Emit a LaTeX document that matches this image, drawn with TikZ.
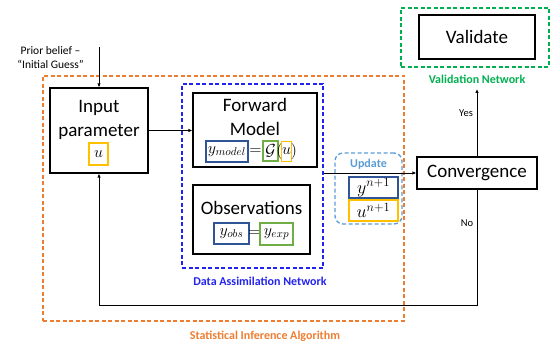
\RequirePackage{fix-cm}
\documentclass[tikz,border=0pt]{standalone}
\usepackage{amsmath}
\usepackage[no-math]{fontspec}
\setmainfont{Carlito}
\usetikzlibrary{arrows.meta}

\definecolor{siaorange}{RGB}{237,125,49}
\definecolor{danblue}{RGB}{35,35,240}
\definecolor{valgreen}{RGB}{0,176,80}
\definecolor{updblue}{RGB}{91,155,213}
\definecolor{varblue}{RGB}{47,85,151}
\definecolor{varyellow}{RGB}{255,192,0}
\definecolor{vargreen}{RGB}{112,173,71}

\tikzset{
  box/.style={draw, line width=1.2pt, inner sep=0pt, font=\fontsize{19}{23}\selectfont},
  boxtext/.style={align=center, inner sep=0pt, font=\fontsize{19}{24}\selectfont},
  varbox/.style={draw=#1, line width=1.2pt, inner sep=0.5pt, fill=white, font=\fontsize{16}{16}\selectfont},
  netframe/.style={draw=#1, line width=1.3pt, dash pattern=on 4pt off 2.5pt},
  tag/.style={text=#1, font=\fontsize{12}{14}\selectfont\bfseries},
  note/.style={align=center, font=\fontsize{11.5}{14}\selectfont},
  conn/.style={line width=0.8pt, -{Latex[length=4pt,width=3.5pt]}}
}

\begin{document}
\begin{tikzpicture}[x=1pt, y=-1pt]
  \useasboundingbox (0,0) rectangle (552,344);
  % dashed networks
  \node[netframe=siaorange, minimum width=361, minimum height=245] (sia) at (223.5,198.5) {};
  \node[netframe=danblue, minimum width=141, minimum height=184] (dan) at (252.5,176) {};
  \node[netframe=valgreen, minimum width=148, minimum height=59] (valnet) at (475,37.5) {};
  \node[netframe=updblue, rounded corners=8pt, minimum width=67, minimum height=71] (upd) at (368.5,188.5) {};
  \node[tag=siaorange] (siatag) at (265,336) {Statistical Inference Algorithm};
  \node[tag=danblue] (dantag) at (260,281) {Data Assimilation Network};
  \node[tag=valgreen] (valtag) at (477,79) {Validation Network};
  \node[tag=updblue] (updtag) at (368.5,164) {Update};

  % input
  \node[box, minimum width=98, minimum height=85] (inp) at (99,130.5) {};
  \node[boxtext] (inptxt) at (99,119.5) {Input\\parameter};
  \node[varbox=varyellow, minimum width=19, minimum height=22] (u) at (98.5,154) {$u$};
  \node[note] (prior) at (50.5,58) {Prior belief –\\“Initial Guess”};
  \coordinate (priorstart) at (99,47);

  % forward model
  \node[box, minimum width=124, minimum height=74] (fwd) at (255,130) {};
  \node[boxtext] (fwdtxt) at (255,116.5) {Forward\\Model};
  \node[varbox=varblue, minimum width=42, minimum height=21] (ymodel) at (227,151.5) {$y_{model}$};
  \node[inner sep=0pt, font=\fontsize{16}{16}\selectfont] (eqa) at (255.5,151.5) {$=$};
  \node[varbox=vargreen, minimum width=15, minimum height=20] (G) at (270.5,151) {$\mathcal{G}$};
  \node[inner sep=0pt, font=\fontsize{16}{16}\selectfont] (lpar) at (279.5,151.5) {$($};
  \node[varbox=varyellow, inner sep=0pt, minimum width=10, minimum height=20] (uf) at (286.5,151.5) {$u$};
  \node[inner sep=0pt, font=\fontsize{16}{16}\selectfont] (rpar) at (294,151.5) {$)$};

  % observations
  \node[box, minimum width=117, minimum height=69] (obs) at (251.5,219.5) {};
  \node[boxtext] (obstxt) at (251.5,208) {Observations};
  \node[varbox=varblue, minimum width=35, minimum height=21] (yobs) at (231.5,233.5) {$y_{obs}$};
  \node[inner sep=0pt, font=\fontsize{16}{16}\selectfont] (eqb) at (254.5,233.5) {$=$};
  \node[varbox=vargreen, minimum width=33, minimum height=22] (yexp) at (276.5,234) {$y_{exp}$};

  % update
  \node[varbox=varblue, minimum width=49, minimum height=21, font=\fontsize{18}{18}\selectfont] (ynew) at (373.5,187.5) {$y^{n+1}$};
  \node[varbox=varyellow, minimum width=49, minimum height=21, font=\fontsize{18}{18}\selectfont] (unew) at (373.5,210.5) {$u^{n+1}$};

  % convergence and validation
  \node[box, minimum width=120, minimum height=32] (conv) at (477,173) {Convergence};
  \node[box, minimum width=116, minimum height=44] (val) at (477,37) {Validate};
  \coordinate (yestip) at (477,89);
  \coordinate (loopcorner) at (477,305);
  \node[note, font=\fontsize{10.5}{12}\selectfont] (yes) at (466,113) {Yes};
  \node[note, font=\fontsize{10.5}{12}\selectfont] (no) at (467,223) {No};

  \draw[conn] (priorstart) -- (inp.north);
  \draw[conn] (inp.east) -- (inp.east -| fwd.west);
  \draw[conn] (dan.east |- conv.west) -- (conv.west);
  \draw[conn] (conv.north) -- (yestip);
  \draw[conn] (conv.south) -- (loopcorner) -| (inp.south);
\end{tikzpicture}
\end{document}
